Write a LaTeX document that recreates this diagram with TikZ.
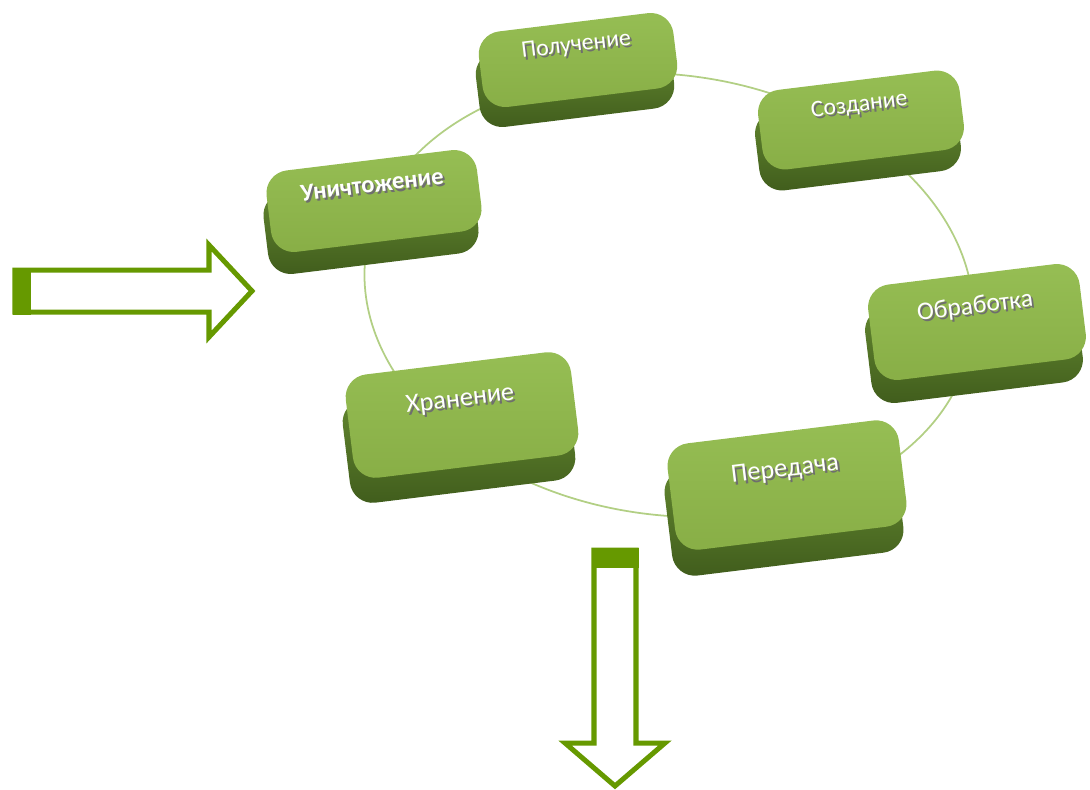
\documentclass[tikz,border=0pt]{standalone}
\usepackage{fontspec}
\newfontfamily\boxfont{Carlito}
\usetikzlibrary{shapes, positioning}
\definecolor{arrowgreen}{RGB}{102,153,0}
\definecolor{topgreen}{RGB}{150,190,84}
\definecolor{topgreenb}{RGB}{136,174,70}
\definecolor{sidegreen}{RGB}{106,144,52}
\definecolor{sidegreenb}{RGB}{64,92,28}
\definecolor{ringgreen}{RGB}{178,207,132}
\definecolor{textshade}{RGB}{110,110,110}
\newcommand{\embossed}[1]{\raisebox{5pt}[0pt][0pt]{\makebox[0pt][l]{\hspace{1pt}\raisebox{-1.4pt}{\textcolor{textshade}{#1}}}\textcolor{white}{#1}}}

\tikzset{
 boxside/.style={rectangle, rounded corners=13pt, inner sep=0pt, rotate=7, top color=sidegreen, bottom color=sidegreenb},
 boxtop/.style={rectangle, rounded corners=13pt, inner sep=0pt, rotate=7, top color=topgreen, bottom color=topgreenb, font=\boxfont},
 blockarrow/.style={draw=arrowgreen, line width=2.85pt, fill=white, line join=miter},
}

\begin{document}
\begin{tikzpicture}[x=0.02cm, y=-0.02cm]
\useasboundingbox (0,0) rectangle (1090,789);

\coordinate (ring) at (669,295);
\draw [ringgreen, line width=1pt, rotate around={-8:(ring)}] (ring) ellipse [x radius=6.12cm, y radius=4.4cm];

% box sides
\node [boxside, minimum width=3.92cm, minimum height=1.52cm] (recv-side) at (575,80) {};
\node [boxside, minimum width=4.06cm, minimum height=1.60cm] (create-side) at (858,141) {};
\node [boxside, minimum width=4.24cm, minimum height=1.64cm] (destroy-side) at (371,223) {};
\node [boxside, minimum width=4.26cm, minimum height=1.92cm] (process-side) at (974,345) {};
\node [boxside, minimum width=4.54cm, minimum height=2.08cm] (store-side) at (459,440) {};
\node [boxside, minimum width=4.66cm, minimum height=2.14cm] (send-side) at (784,511) {};

% box tops
\node [boxtop, minimum width=3.92cm, minimum height=1.52cm] (recv) at (578,60) {\fontsize{13.5}{15}\selectfont\embossed{Получение}};
\node [boxtop, minimum width=4.06cm, minimum height=1.60cm] (create) at (861,120) {\fontsize{13.5}{15}\selectfont\embossed{Создание}};
\node [boxtop, minimum width=4.24cm, minimum height=1.64cm] (destroy) at (374,201) {\fontsize{14}{16}\selectfont\bfseries\embossed{Уничтожение}};
\node [boxtop, minimum width=4.26cm, minimum height=1.92cm] (process) at (977,322) {\fontsize{14.5}{16}\selectfont\embossed{Обработка}};
\node [boxtop, minimum width=4.54cm, minimum height=2.08cm] (store) at (462,415) {\fontsize{15}{17}\selectfont\embossed{Хранение}};
\node [boxtop, minimum width=4.66cm, minimum height=2.14cm] (send) at (787,485) {\fontsize{15}{17}\selectfont\embossed{Передача}};

% arrows
\draw [blockarrow] (15,270) -- (209,270) -- (209,245) -- (252,291) -- (209,337) -- (209,312) -- (15,312) -- cycle;
\fill [arrowgreen] (12.5,267.5) rectangle (31,314.5);

\draw [blockarrow] (594,550) -- (636,550) -- (636,743) -- (665,743) -- (615,786) -- (565,743) -- (594,743) -- cycle;
\fill [arrowgreen] (591.5,547.5) rectangle (638.5,568);
\end{tikzpicture}
\end{document}
